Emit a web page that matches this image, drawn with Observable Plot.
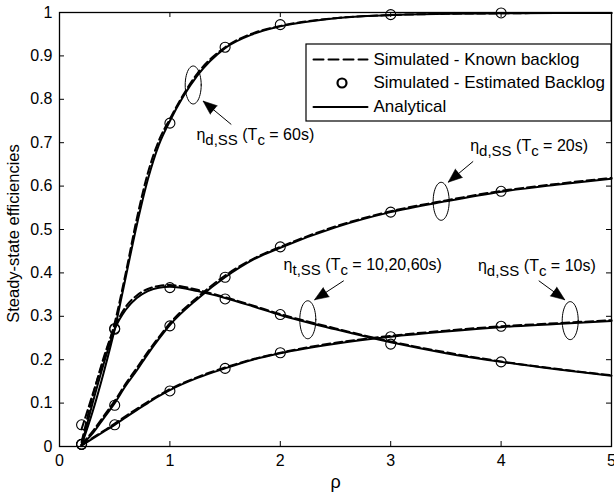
<!DOCTYPE html>
<html>
<head>
<meta charset="utf-8">
<script src="https://cdn.jsdelivr.net/npm/d3@7"></script>
<script src="https://cdn.jsdelivr.net/npm/@observablehq/plot@0.6"></script>
<style>
  html, body { margin: 0; padding: 0; background: #fff; }
</style>
</head>
<body>
<div id="chart"></div>
<script>
// ---------- data ----------
const rhoA = [0.2, 0.3, 0.4, 0.5, 0.6, 0.7, 0.8, 0.9, 1, 1.25, 1.5, 1.75, 2, 2.5, 3, 3.5, 4, 4.5, 5];
// analytical
const anaTc60 = [0.003, 0.08, 0.17, 0.27, 0.39, 0.51, 0.615, 0.695, 0.75, 0.855, 0.918, 0.95, 0.968, 0.987, 0.994, 0.997, 0.998, 0.999, 0.999];
const anaThr  = [0.003, 0.10, 0.19, 0.27, 0.315, 0.342, 0.358, 0.366, 0.368, 0.358, 0.342, 0.323, 0.303, 0.27, 0.24, 0.215, 0.195, 0.178, 0.163];
const anaTc20 = [0.003, 0.03, 0.065, 0.10, 0.14, 0.175, 0.213, 0.248, 0.28, 0.34, 0.39, 0.43, 0.458, 0.505, 0.54, 0.565, 0.587, 0.603, 0.617];
const anaTc10 = [0.002, 0.018, 0.034, 0.05, 0.067, 0.084, 0.10, 0.116, 0.13, 0.158, 0.18, 0.20, 0.215, 0.237, 0.253, 0.265, 0.275, 0.282, 0.289];
// simulated - known backlog
const knTc60 = [0.04, 0.12, 0.20, 0.285, 0.40, 0.525, 0.63, 0.705, 0.755, 0.86, 0.92, 0.952, 0.969, 0.987, 0.994, 0.997, 0.998, 0.999, 0.999];
const knThr  = [0.01, 0.115, 0.205, 0.275, 0.322, 0.348, 0.363, 0.37, 0.372, 0.361, 0.344, 0.325, 0.305, 0.272, 0.242, 0.217, 0.196, 0.179, 0.164];
const knTc20 = [0.005, 0.035, 0.07, 0.105, 0.145, 0.181, 0.218, 0.252, 0.284, 0.344, 0.394, 0.432, 0.46, 0.507, 0.542, 0.567, 0.589, 0.605, 0.619];
const knTc10 = [0.003, 0.02, 0.036, 0.053, 0.07, 0.087, 0.103, 0.118, 0.132, 0.16, 0.182, 0.201, 0.216, 0.239, 0.255, 0.267, 0.277, 0.284, 0.291];
// simulated - estimated backlog (circles)
const rhoS = [0.2, 0.5, 1, 1.5, 2, 3, 4];
const estTc60 = [0.05, 0.27, 0.745, 0.92, 0.972, 0.995, 0.999];
const estThr  = [0.005, 0.272, 0.366, 0.34, 0.304, 0.236, 0.195];
const estTc20 = [0.005, 0.095, 0.278, 0.39, 0.46, 0.54, 0.588];
const estTc10 = [0.005, 0.05, 0.128, 0.18, 0.216, 0.253, 0.277];

const xTickLabels = ["0", "1", "2", "3", "4", "5"];
const yTickLabels = ["0", "0.1", "0.2", "0.3", "0.4", "0.5", "0.6", "0.7", "0.8", "0.9", "1"];
const xTicks = xTickLabels.map(Number);
const yTicks = yTickLabels.map(Number);

// annotations
const annSub = ["d,SS", "d,SS", "t,SS", "d,SS"];
const annTc  = ["60s", "20s", "10,20,60s", "10s"];
const annX   = [1.24, 3.72, 2.03, 3.79];
const annY   = [0.717, 0.692, 0.419, 0.417];
const arrTailX = [1.556, 3.747, 2.575, 4.341];
const arrTailY = [0.742, 0.657, 0.382, 0.382];
const arrTipX  = [1.30, 3.521, 2.31, 4.577];
const arrTipY  = [0.796, 0.609, 0.338, 0.338];
const ellCX = [1.211, 3.457, 2.249, 4.626];
const ellCY = [0.833, 0.565, 0.292, 0.290];

const legendLabels = ["Simulated - Known backlog", "Simulated - Estimated Backlog", "Analytical"];

// ---------- layout ----------
const W = 614, H = 496, mL = 59, mR = 3, mT = 12, mB = 50;
const kx = (W - mL - mR) / 5, ky = (H - mT - mB) / 1;
const plotH = H - mT - mB, plotW = W - mL - mR;

// ---------- build tables ----------
const series = [["Tc60", anaTc60, knTc60, estTc60], ["Thr", anaThr, knThr, estThr], ["Tc20", anaTc20, knTc20, estTc20], ["Tc10", anaTc10, knTc10, estTc10]];
const ana = [], kn = [], est = [];
for (const [id, a, k, e] of series) {
  rhoA.forEach((r, i) => { ana.push({id, x: r, y: a[i]}); kn.push({id, x: r, y: k[i]}); });
  rhoS.forEach((r, i) => est.push({id, x: r, y: e[i]}));
}
const anns = annSub.map((s, i) => ({sub: s, tc: annTc[i], x: annX[i], y: annY[i]}));
const arrows = arrTailX.map((_, i) => {
  const dx = (arrTipX[i] - arrTailX[i]) * kx;
  const dy = -(arrTipY[i] - arrTailY[i]) * ky;
  return {x1: arrTailX[i], y1: arrTailY[i], x2: arrTipX[i], y2: arrTipY[i], rot: Math.atan2(dx, -dy) * 180 / Math.PI};
});
const ellPts = [];
ellCX.forEach((cx, i) => {
  for (let t = 0; t <= 48; t++) {
    const a = t / 48 * 2 * Math.PI;
    ellPts.push({id: i, x: cx + 8 / kx * Math.cos(a), y: ellCY[i] + 19 / ky * Math.sin(a)});
  }
});
// legend geometry (data units)
const legX1 = (306 - mL) / kx, legY1 = (H - mB - 121) / ky, legY2 = (H - mB - 44) / ky;
const rowY = [59, 82.5, 106.5].map(p => (H - mB - p) / ky);
const sx1 = (313 - mL) / kx, sx2 = (367 - mL) / kx, scx = (341.5 - mL) / kx, tx = (373 - mL) / kx;

const svg = Plot.plot({
  width: W, height: H,
  marginLeft: mL, marginRight: mR, marginTop: mT, marginBottom: mB,
  x: {domain: [0, 5], axis: null},
  y: {domain: [0, 1], axis: null},
  style: {fontFamily: "'Liberation Sans', Arial, sans-serif", fontSize: "16px", color: "black", background: "white"},
  marks: [
    Plot.axisX(xTicks, {tickSize: 0, tickPadding: 8, tickFormat: d => xTickLabels[xTicks.indexOf(d)], label: null, fontSize: 16}),
    Plot.axisY(yTicks, {tickSize: 0, tickPadding: 7, tickFormat: d => yTickLabels[yTicks.indexOf(d)], label: null, fontSize: 16}),
    // inward ticks on all four sides
    Plot.ruleX(xTicks, {insetTop: plotH - 5, stroke: "black"}),
    Plot.ruleX(xTicks, {insetBottom: plotH - 5, stroke: "black"}),
    Plot.ruleY(yTicks, {insetRight: plotW - 5, stroke: "black"}),
    Plot.ruleY(yTicks, {insetLeft: plotW - 5, stroke: "black"}),
    // curves
    Plot.line(kn, {x: "x", y: "y", z: "id", curve: "monotone-x", stroke: "black", strokeWidth: 2, strokeDasharray: "8,4"}),
    Plot.line(ana, {x: "x", y: "y", z: "id", curve: "monotone-x", stroke: "black", strokeWidth: 2}),
    Plot.dot(est, {x: "x", y: "y", r: 5, stroke: "black", strokeWidth: 1.1, fill: "none"}),
    // ellipses
    Plot.line(ellPts, {x: "x", y: "y", z: "id", stroke: "black", strokeWidth: 1, curve: "linear-closed"}),
    // arrows
    Plot.link(arrows, {x1: "x1", y1: "y1", x2: "x2", y2: "y2", stroke: "black", strokeWidth: 1}),
    Plot.vector(arrows, {x: "x2", y: "y2", rotate: "rot", length: 14, r: 5.5, shape: "spike", anchor: "end", fill: "black", stroke: "black", strokeWidth: 0.5}),
    // annotation labels
    Plot.text(anns, {x: "x", y: "y", text: d => "η" + d.sub + " (Tc = " + d.tc + ")", textAnchor: "start", lineAnchor: "middle", fontSize: 16, fill: "black"}),
    // legend
    Plot.rect([{x1: legX1, x2: 5, y1: legY1, y2: legY2}], {x1: "x1", x2: "x2", y1: "y1", y2: "y2", fill: "white", stroke: "black", strokeWidth: 1.2}),
    Plot.line([{x: sx1, y: rowY[0]}, {x: sx2, y: rowY[0]}], {x: "x", y: "y", stroke: "black", strokeWidth: 2, strokeDasharray: "10,5"}),
    Plot.dot([{x: scx, y: rowY[1]}], {x: "x", y: "y", r: 4.5, stroke: "black", strokeWidth: 2.2, fill: "none"}),
    Plot.line([{x: sx1, y: rowY[2]}, {x: sx2, y: rowY[2]}], {x: "x", y: "y", stroke: "black", strokeWidth: 2}),
    Plot.text(legendLabels.map((t, i) => ({t, x: tx, y: rowY[i]})), {x: "x", y: "y", text: "t", textAnchor: "start", lineAnchor: "middle", fontSize: 17, fill: "black"}),
    // axis titles
    Plot.text(["ρ"], {frameAnchor: "bottom", dy: 36, text: d => d, fontSize: 18, lineAnchor: "middle", textAnchor: "middle", fill: "black"}),
    Plot.text(["Steady-state efficiencies"], {frameAnchor: "left", dx: -46, dy: 4, rotate: -90, text: d => d, fontSize: 16.5, lineAnchor: "middle", textAnchor: "middle", fill: "black"}),
    Plot.frame({stroke: "black", strokeWidth: 1.3})
  ]
});

// subscripts in the annotation labels
d3.select(svg).selectAll("text")
  .filter(function () { return this.textContent.startsWith("η"); })
  .each(function (_, i) {
    const t = d3.select(this);
    const a = anns[i];
    t.text(null);
    t.append("tspan").text("η");
    t.append("tspan").attr("dy", 5).attr("font-size", 15).text(a.sub);
    t.append("tspan").attr("dy", -5).text(" (T");
    t.append("tspan").attr("dy", 5).attr("font-size", 15).text("c");
    t.append("tspan").attr("dy", -5).text(" = " + a.tc + ")");
  });

document.getElementById("chart").appendChild(svg);
</script>
</body>
</html>
